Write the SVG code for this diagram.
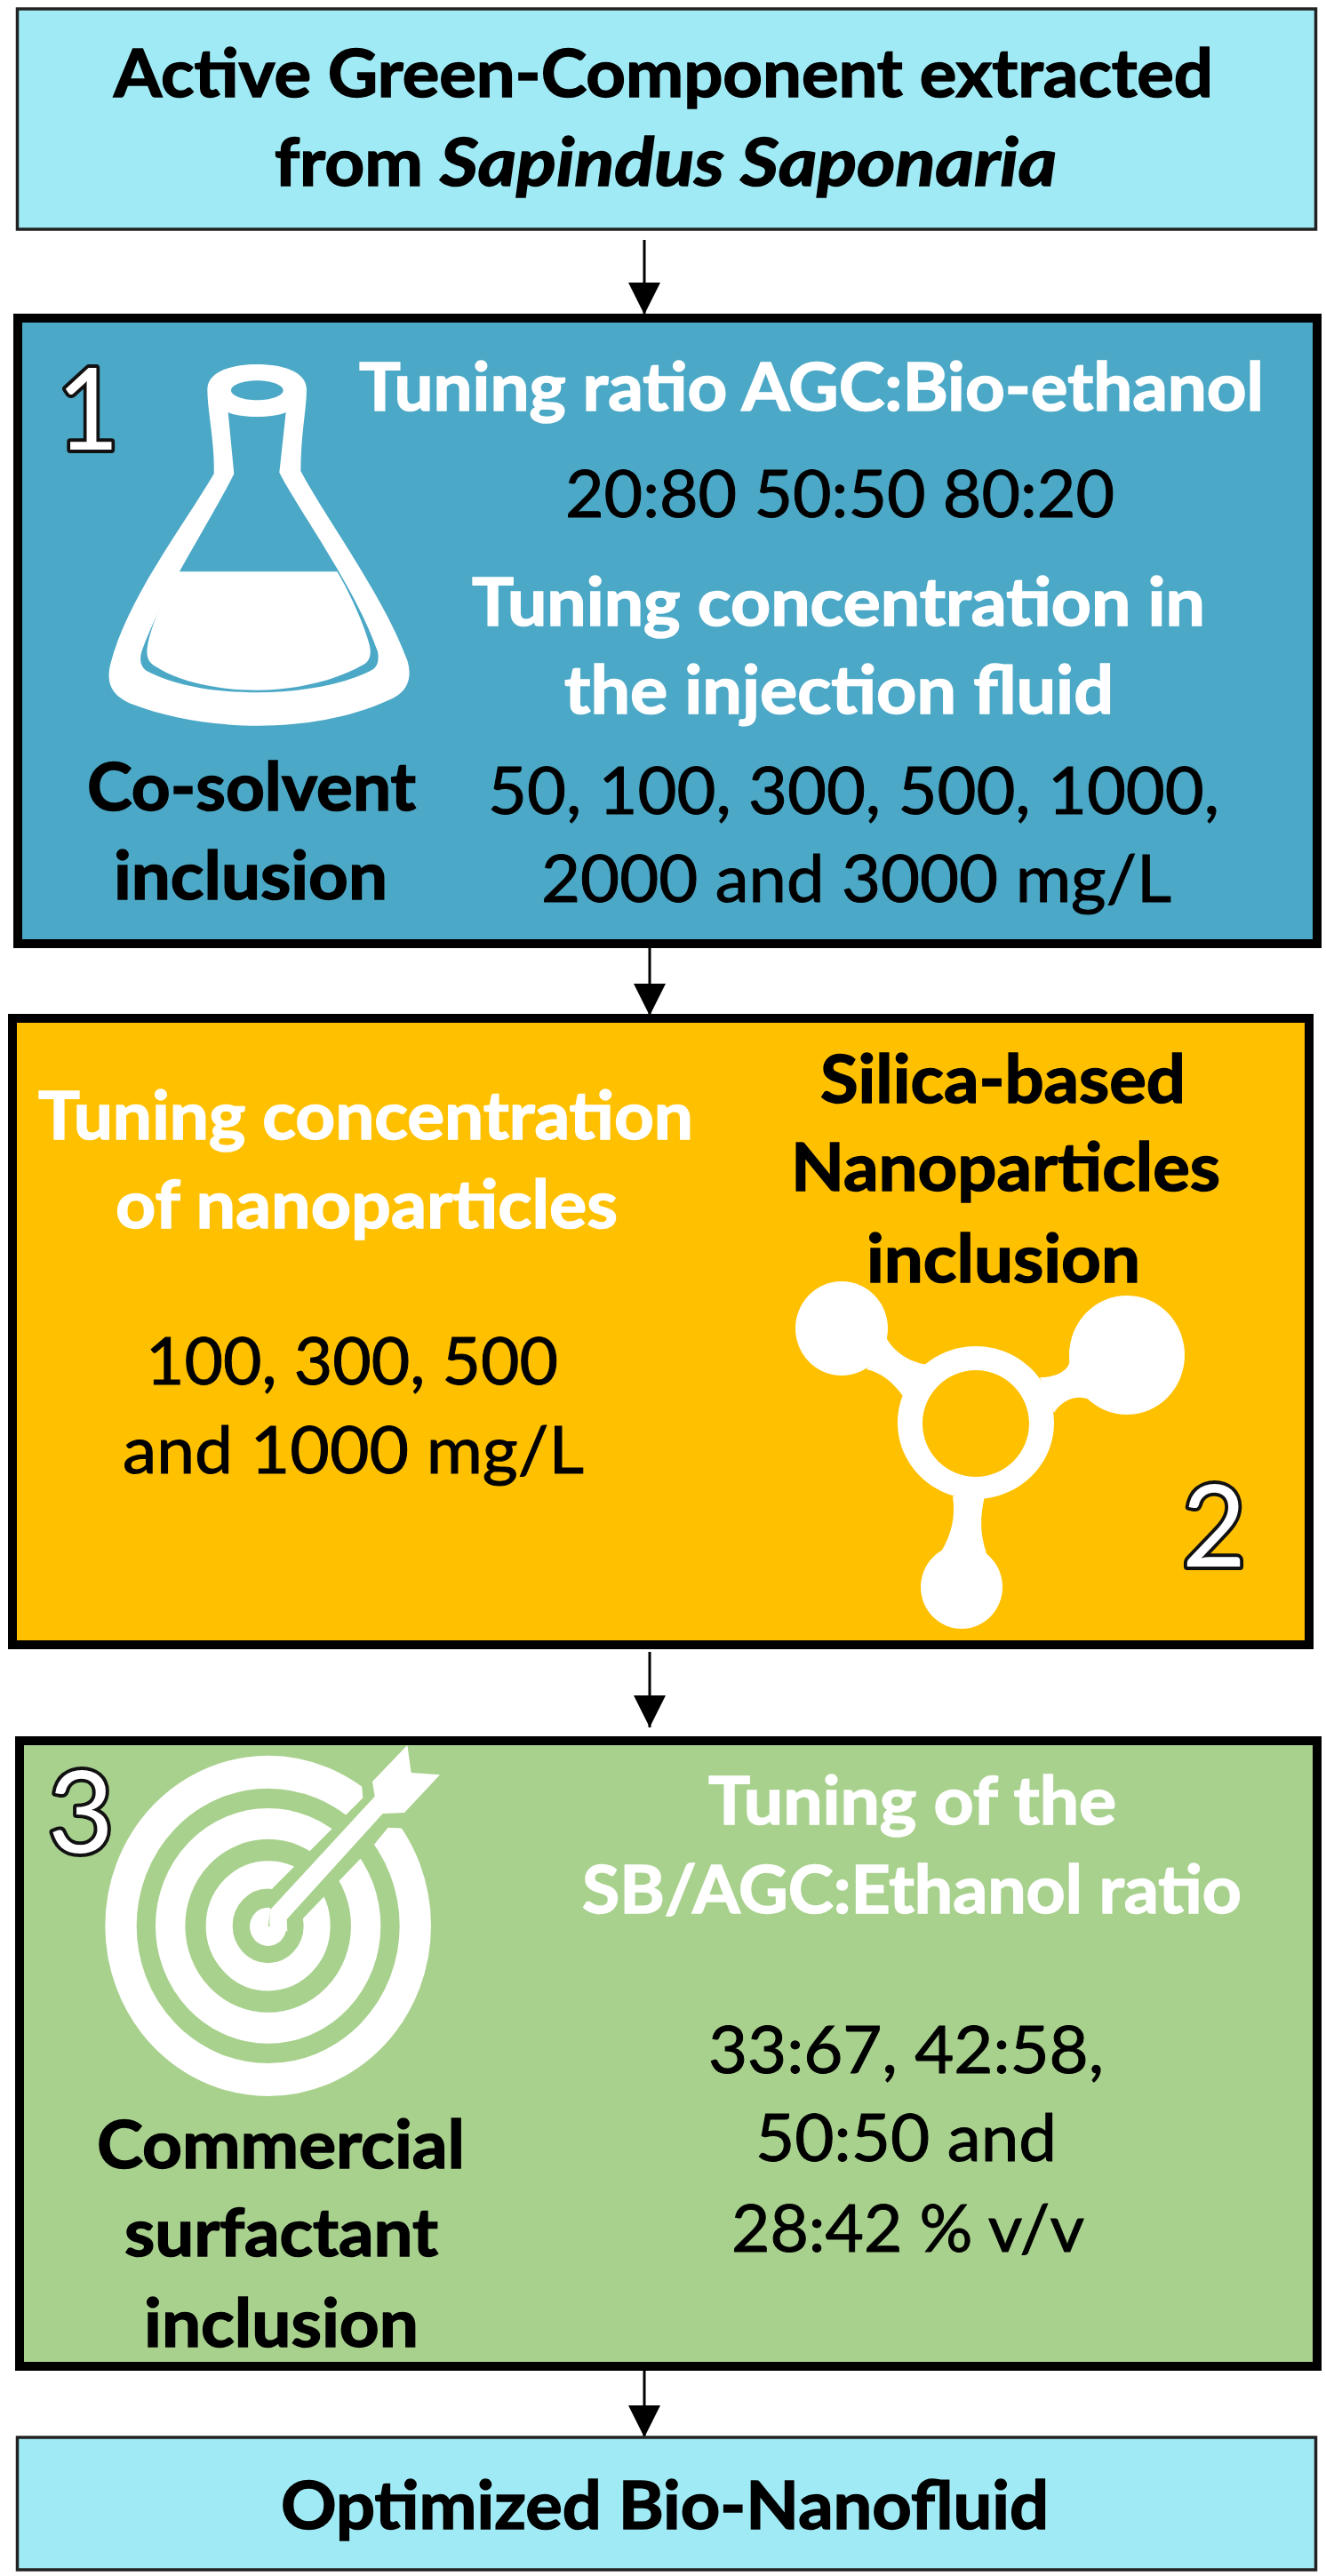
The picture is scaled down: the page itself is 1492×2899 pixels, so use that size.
<svg xmlns="http://www.w3.org/2000/svg" width="1492" height="2899" viewBox="0 0 1492 2899">
<style>
text{font-family:Lato,"Open Sans","Liberation Sans",sans-serif;font-size:74px;fill:#000;stroke:#000;stroke-width:1px}
.b{font-weight:700;stroke-width:1.5px}
.w{font-weight:700;fill:#fff;stroke:#fff;stroke-width:1.5px}
.i{font-style:italic}
.n{font-size:128px;font-weight:400;fill:#fff;stroke:#111;stroke-width:8px;paint-order:stroke;stroke-linejoin:round}
.end{fill:#9FEAF4;stroke:#222;stroke-width:3.5}
.step{stroke:#000;stroke-width:10}
.ic{fill:#fff}
.cn{fill:none;stroke:#000;stroke-width:3;marker-end:url(#ah)}
</style>
<defs>
<marker id="ah" markerUnits="userSpaceOnUse" markerWidth="36" markerHeight="36" refX="36" refY="18" orient="auto" viewBox="0 0 36 36"><path d="M0 0L36 18L0 36z" fill="#000"/></marker>
</defs>
<rect width="1492" height="2899" fill="#fff"/>
<g id="connectors">
<path class="cn" d="M725 270V354"/>
<path class="cn" d="M731 1066V1143"/>
<path class="cn" d="M731 1859V1944"/>
<path class="cn" d="M725 2667V2743"/>
</g>
<g id="node-source">
<rect class="end" x="19.5" y="10" width="1461" height="248"/>
<text class="b" x="128" y="109" textLength="1237" lengthAdjust="spacingAndGlyphs">Active Green-Component extracted</text>
<text class="b" x="309" y="209"><tspan textLength="186" lengthAdjust="spacingAndGlyphs">from </tspan><tspan class="i" x="495" textLength="694" lengthAdjust="spacingAndGlyphs">Sapindus Saponaria</tspan></text>
</g>
<g id="node-step1">
<rect class="step" x="20" y="358" width="1462" height="704" fill="#4BA8C6"/>
<text class="n" x="64" y="506" textLength="70" lengthAdjust="spacingAndGlyphs">1</text>
<g id="flask" transform="translate(100 390) scale(.33333)">
<path class="ic" fill-rule="evenodd" d="M400 145C400 85 480 60 568 60C655 60 735 85 735 145C735 210 715 300 715 420C800 580 1000 850 1075 1060C1090 1110 1085 1165 1010 1195C880 1255 720 1280 575 1280C420 1280 270 1255 140 1205C70 1175 60 1130 72 1075C130 850 310 620 422 430C425 320 400 220 400 145ZM480 148C480 166 520 181 568 181C616 181 656 166 656 148C656 130 616 115 568 115C520 115 480 130 480 148ZM470 222C490 232 530 237 568 237C605 237 645 232 665 222L643 425C700 540 905 820 975 1030C980 1060 975 1085 950 1095C850 1145 700 1168 570 1168C440 1168 300 1150 195 1095C175 1080 170 1060 178 1030C250 830 410 590 490 430Z"/>
<path class="ic" d="M302 760H838C880 830 930 940 948 1010C955 1045 945 1065 925 1075C830 1130 690 1160 570 1160C440 1160 310 1135 225 1080C200 1065 190 1045 200 1000C215 930 260 830 302 760Z"/>
</g>
<text class="w" x="404" y="462" textLength="1018" lengthAdjust="spacingAndGlyphs">Tuning ratio AGC:Bio-ethanol</text>
<text x="636" y="582" textLength="618" lengthAdjust="spacingAndGlyphs">20:80 50:50 80:20</text>
<text class="w" x="531" y="704" textLength="825" lengthAdjust="spacingAndGlyphs">Tuning concentration in</text>
<text class="w" x="635" y="803" textLength="618" lengthAdjust="spacingAndGlyphs">the injection fluid</text>
<text class="b" x="98" y="912" textLength="370" lengthAdjust="spacingAndGlyphs">Co-solvent</text>
<text class="b" x="128" y="1012" textLength="308" lengthAdjust="spacingAndGlyphs">inclusion</text>
<text x="549" y="916" textLength="823" lengthAdjust="spacingAndGlyphs">50, 100, 300, 500, 1000,</text>
<text x="609" y="1015" textLength="709" lengthAdjust="spacingAndGlyphs">2000 and 3000 mg/L</text>
</g>
<g id="node-step2">
<rect class="step" x="14" y="1146" width="1459" height="705" fill="#FFC000"/>
<text class="w" x="43" y="1282" textLength="737" lengthAdjust="spacingAndGlyphs">Tuning concentration</text>
<text class="w" x="130" y="1382" textLength="565" lengthAdjust="spacingAndGlyphs">of nanoparticles</text>
<text x="164" y="1558" textLength="464" lengthAdjust="spacingAndGlyphs">100, 300, 500</text>
<text x="138" y="1658" textLength="519" lengthAdjust="spacingAndGlyphs">and 1000 mg/L</text>
<text class="b" x="923" y="1241" textLength="411" lengthAdjust="spacingAndGlyphs">Silica-based</text>
<text class="b" x="890" y="1340" textLength="483" lengthAdjust="spacingAndGlyphs">Nanoparticles</text>
<text class="b" x="975" y="1443" textLength="308" lengthAdjust="spacingAndGlyphs">inclusion</text>
<g id="molecule">
<path class="ic" fill-rule="evenodd" d="M1098 1515C1146 1515 1186 1553 1186 1601C1186 1649 1146 1687 1098 1687C1050 1687 1010 1649 1010 1601C1010 1553 1050 1515 1098 1515ZM1098 1542C1065 1542 1038 1569 1038 1602C1038 1635 1065 1662 1098 1662C1131 1662 1158 1635 1158 1602C1158 1569 1131 1542 1098 1542Z"/>
<ellipse class="ic" cx="947" cy="1495" rx="52" ry="53"/>
<ellipse class="ic" cx="1268" cy="1525" rx="65" ry="67"/>
<ellipse class="ic" cx="1082" cy="1786" rx="46" ry="47"/>
<path class="ic" d="M997 1505C1005 1520 1020 1532 1044 1536L1018 1574C1005 1555 992 1545 975 1541Z"/>
<path class="ic" d="M1204 1530C1203 1542 1190 1550 1170 1550L1186 1590C1195 1575 1212 1568 1228 1576Z"/>
<path class="ic" d="M1072 1684C1075 1705 1072 1725 1058 1748H1110C1102 1725 1103 1705 1108 1684Z"/>
</g>
<text class="n" x="1330" y="1763" textLength="72" lengthAdjust="spacingAndGlyphs">2</text>
</g>
<g id="node-step3">
<rect class="step" x="22" y="1959" width="1460" height="704" fill="#A9D18E"/>
<g id="target" transform="translate(40 1960) scale(.33333)">
<g fill="none" stroke="#fff" transform="translate(785 622) scale(1 1.045)">
<circle r="497" stroke-width="106"/>
<circle r="330" stroke-width="100"/>
<circle r="165" stroke-width="90"/>
</g>
<ellipse class="ic" cx="785" cy="625" rx="62" ry="65"/>
<path d="M800 495L1105 190L1100 135L1300 60L1380 300L1190 290L1145 345L900 600L785 625Z" fill="#A9D18E"/>
<path class="ic" d="M790 570L1145 185L1137 135L1255 12L1268 105L1365 112L1245 240L1172 243L848 600L850 640L790 630Z"/>
</g>
<text class="n" x="54" y="2085" textLength="74" lengthAdjust="spacingAndGlyphs">3</text>
<text class="w" x="797" y="2053" textLength="459" lengthAdjust="spacingAndGlyphs">Tuning of the</text>
<text class="w" x="655" y="2153" textLength="742" lengthAdjust="spacingAndGlyphs">SB/AGC:Ethanol ratio</text>
<text x="797" y="2333" textLength="445" lengthAdjust="spacingAndGlyphs">33:67, 42:58,</text>
<text x="850" y="2432" textLength="339" lengthAdjust="spacingAndGlyphs">50:50 and</text>
<text x="823" y="2534" textLength="397" lengthAdjust="spacingAndGlyphs">28:42 % v/v</text>
<text class="b" x="109" y="2440" textLength="414" lengthAdjust="spacingAndGlyphs">Commercial</text>
<text class="b" x="140" y="2539" textLength="353" lengthAdjust="spacingAndGlyphs">surfactant</text>
<text class="b" x="162" y="2641" textLength="309" lengthAdjust="spacingAndGlyphs">inclusion</text>
</g>
<g id="node-result">
<rect class="end" x="19.5" y="2743" width="1461" height="149"/>
<text class="b" x="316" y="2846" textLength="864" lengthAdjust="spacingAndGlyphs">Optimized Bio-Nanofluid</text>
</g>
</svg>
